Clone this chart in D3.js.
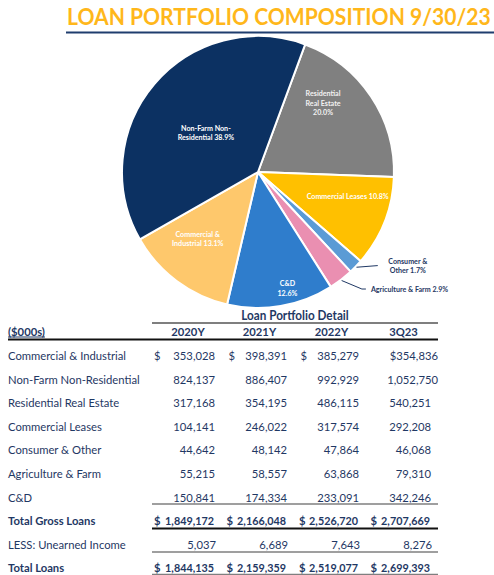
<!DOCTYPE html>
<html><head><meta charset="utf-8">
<script src="https://cdn.jsdelivr.net/npm/d3@7"></script>
<style>html,body{margin:0;padding:0;background:#fff;}svg{display:block;}</style>
</head><body>
<script>
// ---------- DATA ----------
const title = "LOAN PORTFOLIO COMPOSITION 9/30/23";
const tableTitle = "Loan Portfolio Detail";
const unitLabel = "($000s)";
const years = ["2020Y", "2021Y", "2022Y", "3Q23"];
const categories = ["Commercial & Industrial", "Non-Farm Non-Residential", "Residential Real Estate",
  "Commercial Leases", "Consumer & Other", "Agriculture & Farm", "C&D"];
const y2020 = [353028, 824137, 317168, 104141, 44642, 55215, 150841];
const y2021 = [398391, 886407, 354195, 246022, 48142, 58557, 174334];
const y2022 = [385279, 992929, 486115, 317574, 47864, 63868, 233091];
const q2023 = [354836, 1052750, 540251, 292208, 46068, 79310, 342246];
const totalGross = [1849172, 2166048, 2526720, 2707669];
const unearned = [5037, 6689, 7643, 8276];
const totalLoans = [1844135, 2159359, 2519077, 2699393];
const pieOrder = ["Residential Real Estate", "Commercial Leases", "Consumer & Other",
  "Agriculture & Farm", "C&D", "Commercial & Industrial", "Non-Farm Non-Residential"];
const pieLabelLines = {
  "Residential Real Estate": ["Residential", "Real Estate", "{p}"],
  "Commercial Leases": ["Commercial Leases {p}"],
  "Consumer & Other": ["Consumer &", "Other {p}"],
  "Agriculture & Farm": ["Agriculture & Farm {p}"],
  "C&D": ["C&D", "{p}"],
  "Commercial & Industrial": ["Commercial &", "Industrial {p}"],
  "Non-Farm Non-Residential": ["Non-Farm Non-", "Residential {p}"]
};

// ---------- STYLE ----------
const W = 494, H = 575;
const navy = "#1f3864";
const colors = {
  "Residential Real Estate": "#808080",
  "Commercial Leases": "#ffc000",
  "Consumer & Other": "#5b9bd5",
  "Agriculture & Farm": "#ea8fb1",
  "C&D": "#2f7dcc",
  "Commercial & Industrial": "#fec86c",
  "Non-Farm Non-Residential": "#0c3162"
};
// label placement: radius and angle offset (deg) from slice mid-angle
const labelLayout = {
  "Residential Real Estate": {r: 95, da: -13, fill: "#f2f2f2"},
  "Commercial Leases": {r: 93, da: -6.2, fill: "#fff"},
  "C&D": {r: 120, da: -4.6, fill: "#fff"},
  "Commercial & Industrial": {r: 90, da: 5.3, fill: "#fff"},
  "Non-Farm Non-Residential": {r: 65, da: -3.6, fill: "#fff"},
  "Consumer & Other": {outside: true, end: [152, 128], elbow: null, tx: 30, ty: -4.5, anchor: "middle"},
  "Agriculture & Farm": {outside: true, end: [156.5, 138.4], elbow: 4, tx: 5, ty: 0, anchor: "start"}
};
const FONT = "Lato, 'Open Sans', sans-serif";

const svg = d3.select("body").append("svg").attr("width", W).attr("height", H);

// Title (scaled horizontally with a transform to the reference width)
const titleText = svg.append("text").attr("x", 0).attr("y", 0)
  .attr("font-family", FONT).attr("font-weight", 700).attr("font-size", 23)
  .attr("fill", "#ffb71b").text(title);
const titleW = titleText.node().getComputedTextLength();
titleText.attr("transform", `translate(67,25) scale(${424 / titleW},1)`);
svg.append("line").attr("x1", 66).attr("x2", 494).attr("y1", 32.5).attr("y2", 32.5)
  .attr("stroke", "#1f3d6e").attr("stroke-width", 2);

// ---------- PIE ----------
const cx = 258, cy = 172, R = 136;
const deg = Math.PI / 180;
const start = 20.3 * deg;
const total = d3.sum(q2023);
const pieData = pieOrder.map(name => ({name, value: q2023[categories.indexOf(name)]}));
const pie = d3.pie().sort(null).value(d => d.value).startAngle(start).endAngle(start + 2 * Math.PI);
const arcs = pie(pieData);
const arc = d3.arc().innerRadius(0).outerRadius(R);
const g = svg.append("g").attr("transform", `translate(${cx},${cy})`);
g.selectAll("path").data(arcs).join("path")
  .attr("d", arc).attr("fill", d => colors[d.data.name])
  .attr("stroke", "#fff").attr("stroke-width", 2).attr("stroke-linejoin", "round");

const pct = d => d3.format(".1f")(d.data.value / total * 100) + "%";
const polar = (r, a) => [r * Math.sin(a), -r * Math.cos(a)];
const labelFS = 7.8;
arcs.forEach(d => {
  const L = labelLayout[d.data.name];
  const lines = pieLabelLines[d.data.name].map(s => s.replace("{p}", pct(d)));
  const mid = (d.startAngle + d.endAngle) / 2;
  if (!L.outside) {
    const [x, y] = polar(L.r, mid + L.da * deg);
    const t = g.append("text").attr("x", x).attr("y", y)
      .attr("font-family", FONT).attr("font-weight", 700).attr("font-size", labelFS)
      .attr("fill", L.fill).attr("text-anchor", "middle");
    const n = lines.length;
    lines.forEach((s, i) => {
      t.append("tspan").attr("x", x).attr("y", y + (i - (n - 1) / 2) * 9.2).attr("dy", "0.35em").text(s);
    });
  } else {
    const p0 = polar(R + 1, mid);
    const p1 = polar(L.end[0], L.end[1] * deg);
    const pts = [p0, p1];
    if (L.elbow) pts.push([p1[0] + L.elbow, p1[1]]);
    g.append("polyline").attr("points", pts.map(p => p.join(",")).join(" "))
      .attr("fill", "none").attr("stroke", navy).attr("stroke-width", 1);
    const last = pts[pts.length - 1];
    const tx = last[0] + L.tx, ty = last[1] + L.ty;
    const t = g.append("text").attr("font-family", FONT).attr("font-weight", 700)
      .attr("font-size", labelFS).attr("fill", navy).attr("text-anchor", L.anchor);
    const n = lines.length;
    lines.forEach((s, i) => {
      t.append("tspan").attr("x", tx).attr("y", ty + i * 9.2).attr("dy", "0.35em").text(s);
    });
  }
});

// ---------- TABLE ----------
const tbl = svg.append("g").attr("class", "tbl");
const fmt = d3.format(",");
const tableFS = 12;
const rowY = d3.scaleLinear().domain([0, 9]).range([356, 568]);
const colRight = [215, 287, 359, 431];
const dollarX = [154, 228.5, 300.5, 371];
const totDollarX = [154, 226.5, 299, 370.5];
const txt = (x, y, s, opts = {}) => tbl.append("text").attr("x", x).attr("y", y)
  .attr("dy", "0.35em").attr("font-family", FONT).attr("font-size", opts.fs || tableFS)
  .attr("font-weight", opts.bold ? 700 : 400).attr("fill", opts.fill || navy)
  .attr("text-anchor", opts.anchor || "start").text(s);

// header
txt(295, 316, tableTitle, {bold: true, anchor: "middle", fs: 12.5});
tbl.append("line").attr("x1", 152).attr("x2", 438).attr("y1", 323).attr("y2", 323)
  .attr("stroke", "#7f7f7f").attr("stroke-width", 1.8);
const colCenter = [188, 259.5, 331.5, 403.5];
txt(8, 332, unitLabel, {bold: true});
tbl.append("line").attr("x1", 8).attr("x2", 45).attr("y1", 337).attr("y2", 337)
  .attr("stroke", navy).attr("stroke-width", 1);
years.forEach((yr, i) => txt(colCenter[i], 332, yr, {bold: true, anchor: "middle"}));
tbl.append("line").attr("x1", 8).attr("x2", 438).attr("y1", 339.5).attr("y2", 339.5)
  .attr("stroke", "#111").attr("stroke-width", 2);

// category rows
const series = [y2020, y2021, y2022, q2023];
categories.forEach((c, r) => {
  const y = rowY(r);
  txt(8, y, c);
  series.forEach((arr, j) => {
    const v = arr[r];
    if (r === 0 && j < 3) {
      txt(dollarX[j], y, "$");
      txt(colRight[j], y, fmt(v), {anchor: "end"});
    } else if (r === 0 && j === 3) {
      txt(colRight[j] + 7, y, "$" + fmt(v), {anchor: "end"});
    } else if (r === 1 && j === 3) {
      txt(colRight[j] + 7, y, fmt(v), {anchor: "end"});
    } else {
      txt(colRight[j], y, fmt(v), {anchor: "end"});
    }
  });
});
// totals
const extraRows = [
  {label: "Total Gross Loans", vals: totalGross, bold: true, dollar: true},
  {label: "LESS: Unearned Income", vals: unearned, bold: false, dollar: false},
  {label: "Total Loans", vals: totalLoans, bold: true, dollar: true}
];
extraRows.forEach((row, k) => {
  const y = rowY(7 + k);
  txt(8, y, row.label, {bold: row.bold});
  row.vals.forEach((v, j) => {
    if (row.dollar) txt(totDollarX[j], y, "$", {bold: true});
    txt(colRight[j] + (row.dollar ? -1 : 1), y, fmt(v), {anchor: "end", bold: row.bold});
  });
});
// rule lines
const rule = (y, color, w) => tbl.append("line").attr("x1", 152).attr("x2", 438)
  .attr("y1", y).attr("y2", y).attr("stroke", color).attr("stroke-width", w);
rule(504, "#7f7f7f", 1.6);
rule(528.5, "#111", 2);
rule(552, "#7f7f7f", 1.6);
rule(574.5, "#7f7f7f", 1.6);

// compress glyphs horizontally to match the narrow reference face
const probe = svg.append("text").attr("font-family", FONT).attr("font-size", tableFS)
  .text("Commercial & Industrial");
const k = 118 / probe.node().getComputedTextLength();
probe.remove();
tbl.selectAll("text").each(function () {
  const len = this.getComputedTextLength();
  const isBoldNum = d3.select(this).attr("font-weight") == 700 && /^[\d,]+$/.test(this.textContent);
  d3.select(this).attr("textLength", len * k * (isBoldNum ? 0.96 : 1)).attr("lengthAdjust", "spacingAndGlyphs");
});
const probe2 = svg.append("text").attr("font-family", FONT).attr("font-size", labelFS)
  .attr("font-weight", 700).text("Commercial Leases 10.8%");
const k2 = 82 / probe2.node().getComputedTextLength();
probe2.remove();
g.selectAll("text").each(function () {
  d3.select(this).selectAll("tspan").each(function () {
    const l = this.getComputedTextLength();
    d3.select(this).attr("textLength", l * k2).attr("lengthAdjust", "spacingAndGlyphs");
  });
});
</script>
</body></html>
